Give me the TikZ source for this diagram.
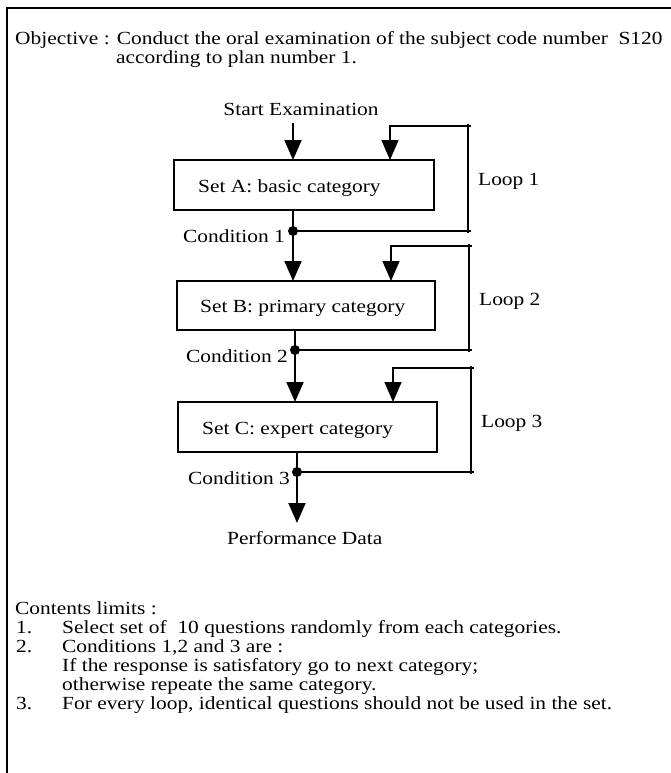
\documentclass[tikz,border=0pt]{standalone}
\usepackage{fontspec}
\setmainfont[FakeStretch=1.157]{Liberation Serif}
\usetikzlibrary{arrows.meta}
\begin{document}
\begin{tikzpicture}[x=1pt,y=-1pt,
  txt/.style={inner sep=0pt,font=\fontsize{18.5}{19}\selectfont},
  setbox/.style={draw,line width=1.5pt},
  stem/.style={line width=2pt,-{Triangle[width=17pt,length=20pt]}},
  loopline/.style={line width=1.5pt},
  looparrow/.style={line width=1.5pt,-{Triangle[width=17pt,length=20pt]}},
  junction/.style={circle,fill,inner sep=0pt,minimum size=10pt}]
\useasboundingbox (0,0) rectangle (671,773);
% frame
\draw[line width=1.8pt] (671,8) -- (7,8) -- (7,773);
% objective
\node[txt,anchor=base west] (obj1) at (15,45) {Objective : Conduct the oral examination of the subject code number\ \ S120};
\node[txt,anchor=base west] (obj2) at (116,64) {according to plan number 1.};
% start
\node[txt,anchor=base] (start) at (301,116) {Start Examination};
\coordinate (s0) at (293,123);
% boxes
\node[setbox,minimum width=260pt,minimum height=50pt,inner sep=0pt] (A) at (304,185) {};
\node[txt,anchor=base west] (Atext) at (198,192) {Set A: basic category};
\node[setbox,minimum width=258pt,minimum height=49pt,inner sep=0pt] (B) at (306,305.5) {};
\node[txt,anchor=base west] (Btext) at (200,312) {Set B: primary category};
\node[setbox,minimum width=259pt,minimum height=50pt,inner sep=0pt] (C) at (307.5,427) {};
\node[txt,anchor=base west] (Ctext) at (202,434) {Set C: expert category};
% junctions
\node[junction] (d1) at (293,231) {};
\node[junction] (d2) at (295,350) {};
\node[junction] (d3) at (297,472) {};
% main flow
\draw[stem] (s0) -- (293,160);
\draw[line width=2pt] (293,210) -- (d1.center);
\draw[stem] (d1.center) -- (293,281);
\draw[line width=2pt] (295,330) -- (d2.center);
\draw[stem] (d2.center) -- (295,402);
\draw[line width=2pt] (297,452) -- (d3.center);
\coordinate (pend) at (297,523);
\draw[stem] (d3.center) -- (pend);
% loops
\coordinate (l1t) at (471,126);
\coordinate (l1a) at (390,126);
\coordinate (l1b) at (471,231);
\draw[looparrow] (l1t) -- (l1a) -- (390,160);
\draw[loopline] (468,124) -- (468,233);
\draw[loopline] (d1.center) -- (l1b);
\coordinate (l2t) at (472,246);
\coordinate (l2a) at (391,246);
\coordinate (l2b) at (472,350);
\draw[looparrow] (l2t) -- (l2a) -- (391,281);
\draw[loopline] (469,244) -- (469,352);
\draw[loopline] (d2.center) -- (l2b);
\coordinate (l3t) at (474,368);
\coordinate (l3a) at (393,368);
\coordinate (l3b) at (474,472);
\draw[looparrow] (l3t) -- (l3a) -- (393,402);
\draw[loopline] (471,366) -- (471,474);
\draw[loopline] (d3.center) -- (l3b);
% labels
\node[txt,anchor=base east] (c1) at (285,242) {Condition 1};
\node[txt,anchor=base east] (c2) at (288,362) {Condition 2};
\node[txt,anchor=base east] (c3) at (290,484) {Condition 3};
\node[txt,anchor=base west] (lp1) at (478,185) {Loop 1};
\node[txt,anchor=base west] (lp2) at (479,305) {Loop 2};
\node[txt,anchor=base west] (lp3) at (481,427) {Loop 3};
\node[txt,anchor=base west] (perf) at (227,544) {Performance Data};
% contents limits
\node[txt,anchor=base west] (cl) at (15,614) {Contents limits :};
\node[txt,anchor=base west] (n1) at (16,633) {1.};
\node[txt,anchor=base west] (t1) at (62,633) {Select set of\ \ 10 questions randomly from each categories.};
\node[txt,anchor=base west] (n2) at (16,652) {2.};
\node[txt,anchor=base west] (t2) at (62,652) {Conditions 1,2 and 3 are :};
\node[txt,anchor=base west] (t2b) at (62,671) {If the response is satisfatory go to next category;};
\node[txt,anchor=base west] (t2c) at (62,690) {otherwise repeate the same category.};
\node[txt,anchor=base west] (n3) at (16,709) {3.};
\node[txt,anchor=base west] (t3) at (62,709) {For every loop, identical questions should not be used in the set.};
\end{tikzpicture}
\end{document}
